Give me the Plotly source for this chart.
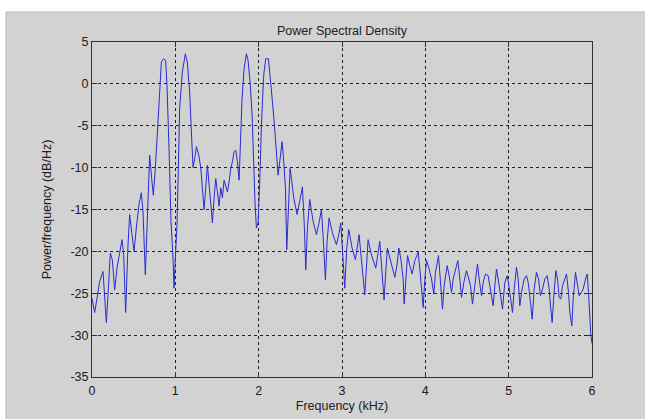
import plotly.graph_objects as go

# Frequency (kHz) and PSD (dB/Hz)
freq_khz = [
    0.000, 0.032, 0.060, 0.092, 0.132, 0.152, 0.172, 0.192, 0.220, 0.244,
    0.272, 0.300, 0.332, 0.360, 0.380, 0.404, 0.432, 0.452, 0.480, 0.504,
    0.532, 0.564, 0.592, 0.612, 0.640, 0.660, 0.672, 0.692, 0.716, 0.736,
    0.760, 0.784, 0.808, 0.832, 0.860, 0.884, 0.900, 0.924, 0.948, 0.972,
    0.984, 1.000, 1.020, 1.036, 1.052, 1.084, 1.120, 1.144, 1.172, 1.196,
    1.213, 1.233, 1.253, 1.281, 1.305, 1.325, 1.345, 1.365, 1.385, 1.405,
    1.425, 1.445, 1.465, 1.485, 1.505, 1.525, 1.545, 1.565, 1.585, 1.605,
    1.625, 1.645, 1.665, 1.685, 1.705, 1.725, 1.745, 1.765, 1.781, 1.801,
    1.825, 1.853, 1.873, 1.897, 1.921, 1.941, 1.957, 1.973, 1.993, 2.013,
    2.033, 2.061, 2.085, 2.117, 2.137, 2.165, 2.189, 2.213, 2.233, 2.253,
    2.281, 2.301, 2.321, 2.337, 2.357, 2.377, 2.397, 2.421,
    2.445, 2.461, 2.493, 2.525, 2.549, 2.565, 2.585, 2.613, 2.653, 2.693,
    2.725, 2.753, 2.777, 2.801, 2.821, 2.845, 2.885, 2.933, 2.961, 2.985,
    3.009, 3.033, 3.057, 3.081, 3.121, 3.161, 3.205, 3.237, 3.273, 3.293,
    3.313, 3.353, 3.405, 3.453, 3.481, 3.505, 3.525, 3.545, 3.585,
    3.634, 3.662, 3.682, 3.706, 3.734, 3.746, 3.766, 3.786, 3.814, 3.842,
    3.874, 3.914, 3.934, 3.954, 3.974, 3.994, 4.014, 4.046, 4.074, 4.102,
    4.122, 4.158, 4.182, 4.206, 4.226, 4.262, 4.286, 4.314, 4.334, 4.390,
    4.414, 4.434, 4.462, 4.494, 4.522, 4.542, 4.566, 4.594, 4.626, 4.646,
    4.674, 4.694, 4.722, 4.754, 4.774,
    4.794, 4.814, 4.834, 4.854, 4.874, 4.902, 4.926, 4.954, 4.982, 5.002,
    5.026, 5.046, 5.066, 5.094, 5.114, 5.134, 5.154, 5.186, 5.214, 5.234,
    5.262, 5.282, 5.306, 5.334, 5.358, 5.382, 5.406, 5.434, 5.462, 5.486,
    5.502, 5.522, 5.542, 5.566, 5.586, 5.606, 5.626, 5.646, 5.674, 5.694,
    5.718, 5.734, 5.758, 5.774, 5.802, 5.822, 5.846, 5.874, 5.894, 5.922,
    5.942, 5.958, 5.974, 5.986, 6.000,
]

psd_db = [
    -25.6, -27.3, -25.6, -23.6, -22.4, -25.2, -28.5, -25.2, -20.2, -21.0,
    -24.6, -22.0, -20.0, -18.6, -20.4, -27.3, -19.2, -15.6, -18.0, -20.0,
    -17.2, -14.4, -13.0, -15.2, -22.8, -17.2, -11.7, -8.5, -11.3, -13.3,
    -10.1, -6.5, -1.7, 2.6, 3.0, 2.8, -0.2, -7.7, -16.4, -20.8,
    -24.4, -20.8, -16.8, -10.1, -2.9, 1.4, 3.6, 2.6, -1.0, -6.5,
    -10.0, -8.9, -7.5, -8.5, -10.0, -12.5, -15.0, -12.4, -9.7, -12.0,
    -14.4, -16.6, -13.6, -11.3, -12.9, -14.6, -12.4, -13.6, -11.5, -12.1,
    -12.9, -11.7, -10.1, -9.3, -8.1, -7.9, -9.3, -11.5, -6.9, -1.7,
    1.8, 3.6, 2.8, 0.2, -3.7, -10.1, -14.4, -17.2, -16.6, -11.6,
    -4.9, 1.1, 3.0, 3.0, 1.1, -2.1, -4.9, -7.7, -10.9, -9.3,
    -6.9, -9.3, -12.4, -19.8, -14.0, -10.1, -11.6, -13.6,
    -14.8, -15.6, -14.0, -12.3, -17.2, -22.2, -17.2, -13.8, -16.4, -18.0,
    -16.6, -15.0, -18.8, -23.4, -18.8, -16.0, -17.8, -19.2, -18.0, -16.6,
    -20.4, -24.4, -19.6, -17.4, -19.6, -21.0, -18.0, -21.6, -25.2, -22.0,
    -18.6, -20.4, -22.0, -18.8, -22.4, -25.8, -22.4, -19.6, -21.2,
    -23.1, -21.5, -19.6, -20.9, -23.3, -26.3, -23.3, -20.5, -21.7, -22.7,
    -21.1, -20.1, -22.1, -24.1, -26.7, -23.3, -21.1, -22.1, -23.3, -25.1,
    -22.5, -20.5, -23.3, -26.9, -24.1, -21.7, -22.9, -24.9, -23.3, -21.1,
    -23.3, -25.5, -23.7, -22.3, -23.3, -24.1, -26.3, -24.1, -21.5, -23.3,
    -25.3, -23.7, -22.7, -22.9, -24.1,
    -25.7, -26.5, -24.1, -22.1, -23.3, -25.3, -26.9, -23.7, -22.9, -24.1,
    -25.7, -27.3, -24.5, -21.9, -23.3, -26.5, -24.9, -23.3, -22.9, -23.7,
    -26.1, -28.1, -24.5, -22.5, -23.3, -25.3, -24.5, -23.3, -22.9, -24.5,
    -26.5, -28.5, -25.3, -22.3, -23.3, -25.5, -25.7, -24.1, -23.3, -22.7,
    -24.9, -27.3, -28.9, -25.7, -22.5, -24.1, -25.3, -24.9, -24.5, -23.3,
    -22.7, -24.9, -28.1, -30.0, -31.0,
]

x_ticks = [0, 1, 2, 3, 4, 5, 6]
y_ticks = [5, 0, -5, -10, -15, -20, -25, -30, -35]

title_text = "Power Spectral Density"
x_label = "Frequency (kHz)"
y_label = "Power/frequency (dB/Hz)"

W, H = 645, 419
L, R, T, B = 92, 53, 42, 42
FONT = "Liberation Sans, Arial, sans-serif"
GREY = "#d2d2d2"
TXT = "#202020"

fig = go.Figure()
fig.add_trace(go.Scatter(
    x=freq_khz, y=psd_db, mode="lines",
    line=dict(color="#2a2ad2", width=1),
    hoverinfo="skip", showlegend=False,
))

pw = W - L - R
ph = H - T - B
# figure frame (grey panel with thin white strip at left / top)
fig.add_shape(type="rect", xref="paper", yref="paper", layer="below",
              x0=(6 - L) / pw, x1=(W + 5 - L) / pw,
              y0=-(H + 5 - T - ph) / ph, y1=(H - B - 12) / ph,
              fillcolor=GREY, line=dict(color="#b8b8b8", width=1))

axis_common = dict(
    showline=True, linecolor="#303030", linewidth=1, mirror="ticks",
    ticks="inside", ticklen=5, tickcolor="#303030",
    showgrid=True, gridcolor="#202020", gridwidth=1, griddash="3px,3px",
    zeroline=False, automargin=False,
    tickfont=dict(family=FONT, size=12.5, color=TXT),
)

fig.update_xaxes(range=[0, 6], tickvals=x_ticks, ticktext=[str(v) for v in x_ticks],
                 ticklabelstandoff=2,
                 title=dict(text=x_label, font=dict(family=FONT, size=12.5, color=TXT), standoff=4),
                 **axis_common)
fig.update_yaxes(range=[-35, 5], tickvals=y_ticks, ticktext=[str(v) for v in y_ticks],
                 title=dict(text=y_label, font=dict(family=FONT, size=12.5, color=TXT), standoff=16),
                 **axis_common)

fig.update_layout(
    width=W, height=H,
    margin=dict(l=L, r=R, t=T, b=B, pad=0, autoexpand=False),
    paper_bgcolor="white", plot_bgcolor="white",
    title=dict(text=title_text, x=342 / W, xanchor="center",
               y=1 - 31 / H, yanchor="middle",
               font=dict(family=FONT, size=12.5, color=TXT)),
    font=dict(family=FONT, size=12.5, color=TXT),
)

fig.write_html("out.html")
